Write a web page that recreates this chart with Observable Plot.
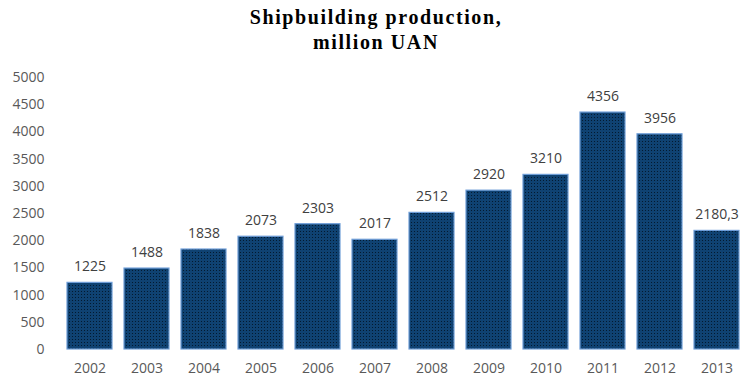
<!DOCTYPE html>
<html>
<head>
<meta charset="utf-8">
<script src="https://cdn.jsdelivr.net/npm/d3@7"></script>
<script src="https://cdn.jsdelivr.net/npm/@observablehq/plot@0.6"></script>
<style>
  html, body { margin: 0; padding: 0; background: #fff; overflow: hidden; }
  #title { width: 752px; height: 60px; text-align: center; font-family: "Liberation Serif", "Times New Roman", serif;
           font-weight: bold; font-size: 20px; line-height: 25px; letter-spacing: 1.6px; color: #000; padding-top: 5px; box-sizing: border-box; }
</style>
</head>
<body>
<div id="title">Shipbuilding production,<br>million UAN</div>
<div id="chart"></div>
<script>
const years = ["2002","2003","2004","2005","2006","2007","2008","2009","2010","2011","2012","2013"];
const values = [1225, 1488, 1838, 2073, 2303, 2017, 2512, 2920, 3210, 4356, 3956, 2180.3];
const valueLabels = ["1225","1488","1838","2073","2303","2017","2512","2920","3210","4356","3956","2180,3"];
const yTicks = [0, 500, 1000, 1500, 2000, 2500, 3000, 3500, 4000, 4500, 5000];

const data = years.map((y, i) => ({year: y, value: values[i], label: valueLabels[i]}));

const chart = Plot.plot({
  width: 742,
  height: 321,
  marginTop: 17,
  marginBottom: 32,
  marginLeft: 59,
  marginRight: 0,
  style: {fontFamily: "'Open Sans', sans-serif", fontSize: "14px", overflow: "visible"},
  x: {domain: years, range: [59, 747], paddingInner: 0.21, paddingOuter: 0.105, label: null},
  y: {domain: [0, 5000], label: null},
  marks: [
    Plot.gridY(yTicks, {stroke: "#e4e4e4", strokeOpacity: 1, x1: 59, x2: 747}),
    Plot.barY(data, {x: "year", y: "value", fill: "url(#dots)", stroke: "#6f9ed8", strokeWidth: 1.2}),
    Plot.ruleY([0], {stroke: "#bfbfbf", strokeWidth: 3, x1: 59, x2: 747}),
    Plot.text(data, {x: "year", y: "value", text: "label", dy: -16, fill: "#404040", fontSize: 14}),
    Plot.axisX({tickSize: 0, tickPadding: 14, fill: "#595959", fontSize: 14, label: null}),
    Plot.axisY(yTicks, {tickSize: 0, tickPadding: 15, fill: "#595959", fontSize: 14, tickFormat: d3.format("d"), label: null})
  ]
});

chart.insertAdjacentHTML("afterbegin",
  '<defs><pattern id="dots" width="3" height="3" patternUnits="userSpaceOnUse">' +
  '<rect width="3" height="3" fill="#0f4272"/>' +
  '<rect x="0" y="0" width="1" height="1" fill="#031a30"/>' +
  '</pattern></defs>');

document.getElementById("chart").appendChild(chart);
</script>
</body>
</html>
